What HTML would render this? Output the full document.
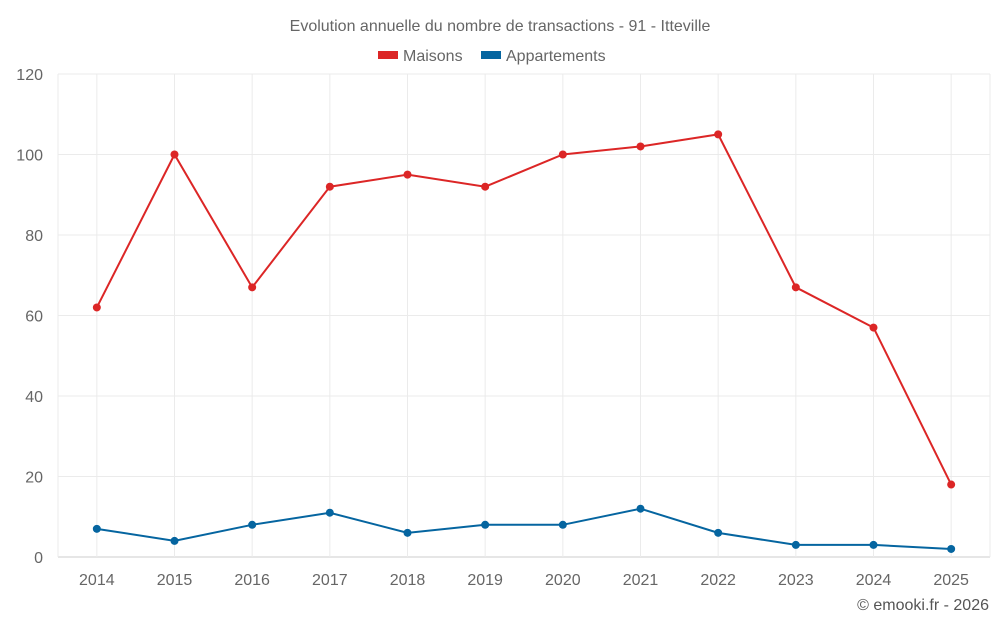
<!DOCTYPE html>
<html><head><meta charset="utf-8"><style>
body{margin:0;background:#fff;font-family:"Liberation Sans",sans-serif;}
svg text{font-family:"Liberation Sans",sans-serif;}
</style></head><body>
<svg id="c" width="1000" height="625">
<text x="500" y="31" text-anchor="middle" font-size="16" fill="#666">Evolution annuelle du nombre de transactions - 91 - Itteville</text>
<g>
<rect x="378" y="51" width="20" height="8" fill="#dc2626"/>
<text x="403" y="61" font-size="16" fill="#666">Maisons</text>
<rect x="481" y="51" width="20" height="8" fill="#0565a0"/>
<text x="506" y="61" font-size="16" fill="#666">Appartements</text>
</g>
<g id="grid"></g><g id="marks"></g>
<text x="989" y="610" text-anchor="end" font-size="16" fill="#555">© emooki.fr - 2026</text>
</svg>
<script>
const categories=["2014","2015","2016","2017","2018","2019","2020","2021","2022","2023","2024","2025"];
const maisons=[62,100,67,92,95,92,100,102,105,67,57,18];
const appartements=[7,4,8,11,6,8,8,12,6,3,3,2];
const yTicks=[0,20,40,60,80,100,120];
const L=58,R=990,T=74,B=557,yMax=120;
const step=(R-L)/categories.length;
const x=i=>L+step*(i+0.5);
const y=v=>B-(B-T)*v/yMax;
const ns="http://www.w3.org/2000/svg";
const grid=document.getElementById('grid'),marks=document.getElementById('marks');
function mk(t,a,p){const e=document.createElementNS(ns,t);for(const k in a)e.setAttribute(k,a[k]);p.appendChild(e);return e;}
yTicks.forEach(v=>{
 const l=mk('line',{x1:L,x2:R,y1:y(v),y2:y(v),stroke:v===0?'#ccc':'#ebebeb'},grid);
 
 
 const t=mk('text',{x:43,y:y(v)+6,'text-anchor':'end','font-size':16,fill:'#666'},grid);t.textContent=v;
 
 
});
categories.forEach((c,i)=>{
 const l=mk('line',{x1:x(i),x2:x(i),y1:T,y2:B,stroke:'#ebebeb'},grid);
 
 
 const t=mk('text',{x:x(i),y:585,'text-anchor':'middle','font-size':16,fill:'#666'},grid);t.textContent=c;
 
 
});
mk('line',{x1:L,x2:L,y1:T,y2:B,stroke:'#ebebeb'},grid);
mk('line',{x1:R,x2:R,y1:T,y2:B,stroke:'#ebebeb'},grid);
function series(vals,col,name){
 const p=mk('polyline',{points:vals.map((v,i)=>x(i)+','+y(v)).join(' '),fill:'none',stroke:col,'stroke-width':2},marks);
 
 
 vals.forEach((v,i)=>{const c=mk('circle',{cx:x(i),cy:y(v),r:4,fill:col},marks);
 
 });
}
series(maisons,'#dc2626','maisons');
series(appartements,'#0565a0','appartements');
</script>
</body></html>
